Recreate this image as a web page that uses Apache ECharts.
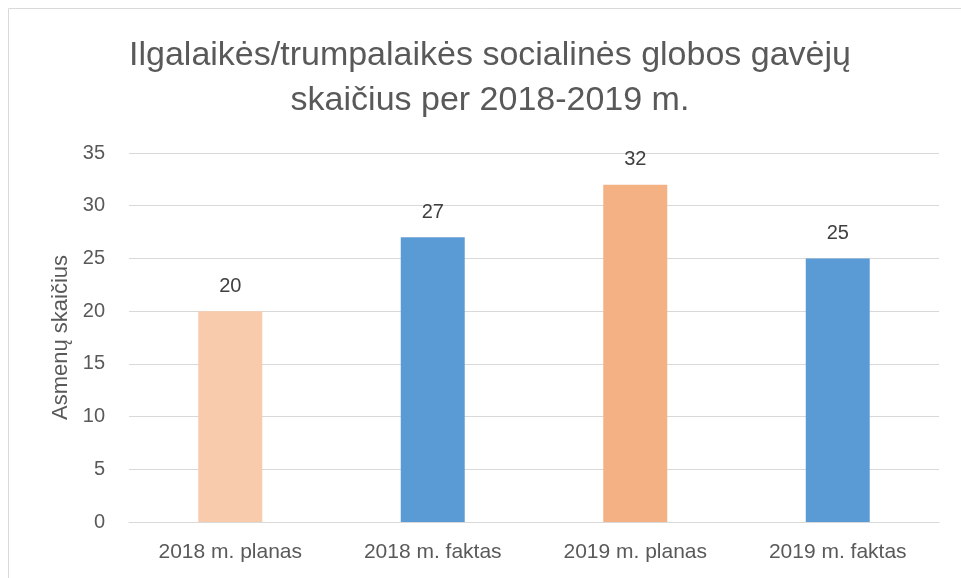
<!DOCTYPE html>
<html>
<head>
<meta charset="utf-8">
<style>
  html, body { margin: 0; padding: 0; background: #fff; }
  #chart { width: 961px; height: 578px; }
</style>
<script src="https://cdn.jsdelivr.net/npm/echarts@6/dist/echarts.min.js"></script>
</head>
<body>
<div id="chart"></div>
<script>
// data
const categories = ["2018 m. planas", "2018 m. faktas", "2019 m. planas", "2019 m. faktas"];
const values = [20, 27, 32, 25];
const barColors = ["#F8CBAD", "#5B9BD5", "#F4B183", "#5B9BD5"];
const yTicks = { min: 0, max: 35, interval: 5 };

const chart = echarts.init(document.getElementById("chart"));
const font = "'Liberation Sans', Arial, sans-serif";

chart.setOption({
  animation: false,
  textStyle: { fontFamily: font },
  // chart border (cut off at right and bottom)
  graphic: [{
    type: "rect",
    shape: { x: 8.5, y: 8.5, width: 1000, height: 1000 },
    style: { fill: "none", stroke: "#D9D9D9", lineWidth: 1 },
    silent: true
  }],
  title: {
    text: "Ilgalaikės/trumpalaikės socialinės globos gavėjų\nskaičius per 2018-2019 m.",
    left: 485,
    textAlign: "center",
    top: 28,
    textStyle: {
      fontFamily: font,
      fontSize: 34,
      fontWeight: "normal",
      color: "#595959",
      lineHeight: 45
    }
  },
  grid: { left: 129, right: 22, top: 153, bottom: 56 },
  xAxis: {
    type: "category",
    data: categories,
    axisLine: { lineStyle: { color: "#D9D9D9", width: 1 } },
    axisTick: { show: false },
    axisLabel: { color: "#595959", fontSize: 21, margin: 20 }
  },
  yAxis: {
    type: "value",
    min: yTicks.min,
    max: yTicks.max,
    interval: yTicks.interval,
    name: "Asmenų skaičius",
    nameLocation: "middle",
    nameGap: 57,
    nameTextStyle: { color: "#595959", fontSize: 22 },
    axisLine: { show: false },
    axisTick: { show: false },
    axisLabel: { color: "#595959", fontSize: 20, margin: 24 },
    splitLine: { lineStyle: { color: "#D9D9D9", width: 1 } }
  },
  series: [{
    type: "bar",
    barWidth: "31.6%",
    data: values.map((v, i) => ({ value: v, itemStyle: { color: barColors[i] } })),
    label: {
      show: true,
      position: "top",
      distance: 15,
      color: "#404040",
      fontSize: 20
    }
  }]
});
</script>
</body>
</html>
